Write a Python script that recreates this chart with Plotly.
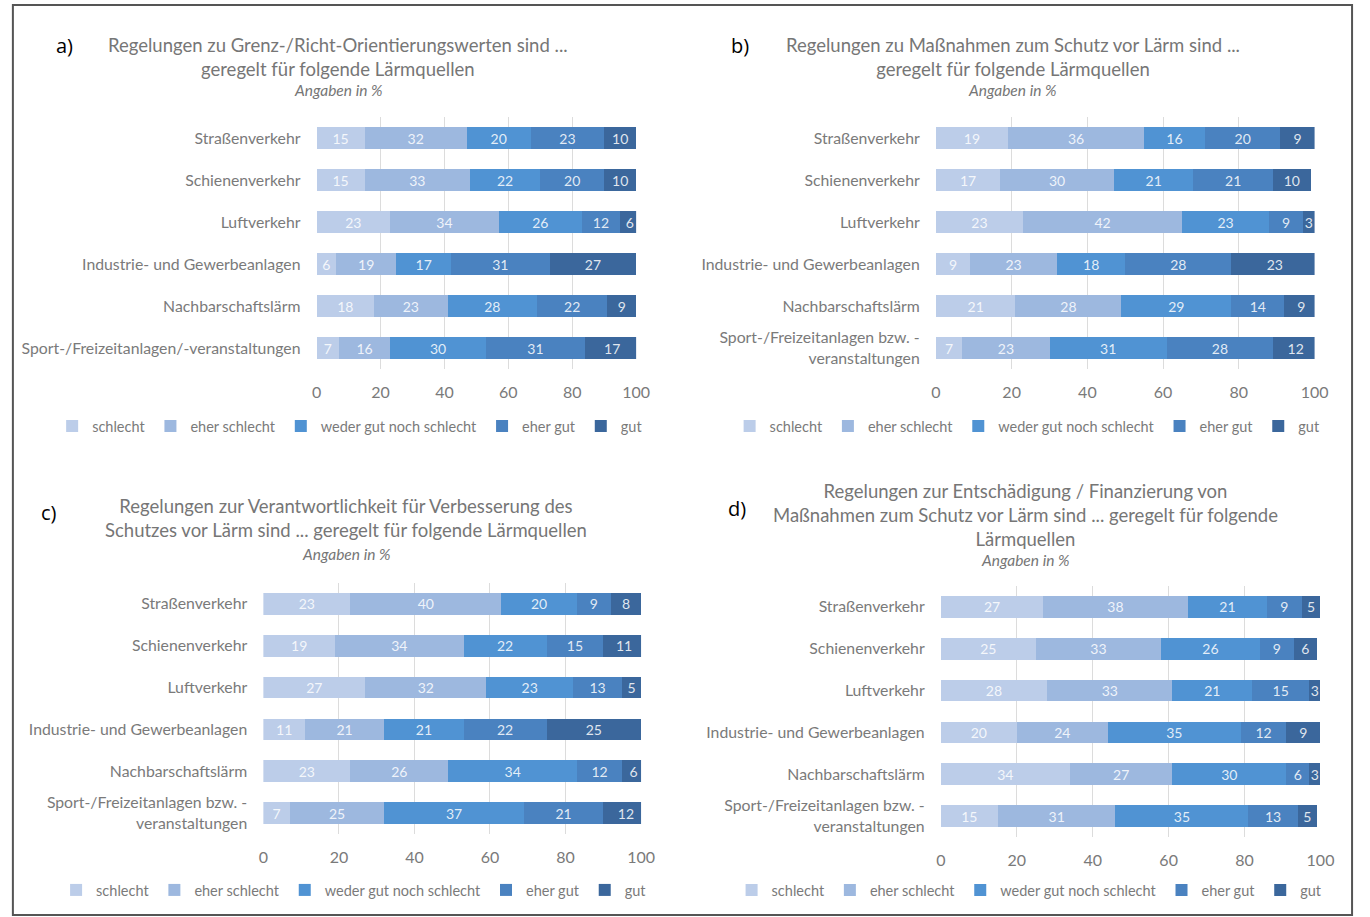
import plotly.graph_objects as go

W, H = 1370, 917

series_names = ["schlecht", "eher schlecht", "weder gut noch schlecht", "eher gut", "gut"]
colors = ["#bccde9", "#9db8df", "#5093d3", "#4a82c0", "#3b679c"]

cats_a = ["Straßenverkehr", "Schienenverkehr", "Luftverkehr", "Industrie- und Gewerbeanlagen",
          "Nachbarschaftslärm", "Sport-/Freizeitanlagen/-veranstaltungen"]
cats_bcd = ["Straßenverkehr", "Schienenverkehr", "Luftverkehr", "Industrie- und Gewerbeanlagen",
            "Nachbarschaftslärm", "Sport-/Freizeitanlagen bzw. -<br>veranstaltungen"]

a_schlecht = [15, 15, 23, 6, 18, 7]
a_eher_schlecht = [32, 33, 34, 19, 23, 16]
a_weder = [20, 22, 26, 17, 28, 30]
a_eher_gut = [23, 20, 12, 31, 22, 31]
a_gut = [10, 10, 6, 27, 9, 17]

b_schlecht = [19, 17, 23, 9, 21, 7]
b_eher_schlecht = [36, 30, 42, 23, 28, 23]
b_weder = [16, 21, 23, 18, 29, 31]
b_eher_gut = [20, 21, 9, 28, 14, 28]
b_gut = [9, 10, 3, 23, 9, 12]

c_schlecht = [23, 19, 27, 11, 23, 7]
c_eher_schlecht = [40, 34, 32, 21, 26, 25]
c_weder = [20, 22, 23, 21, 34, 37]
c_eher_gut = [9, 15, 13, 22, 12, 21]
c_gut = [8, 11, 5, 25, 6, 12]

d_schlecht = [27, 25, 28, 20, 34, 15]
d_eher_schlecht = [38, 33, 33, 24, 27, 31]
d_weder = [21, 26, 21, 35, 30, 35]
d_eher_gut = [9, 9, 15, 12, 6, 13]
d_gut = [5, 6, 3, 9, 3, 5]

x_ticks = [0, 20, 40, 60, 80, 100]

titles = [
    "Regelungen zu Grenz-/Richt-Orientierungswerten sind ...<br>geregelt für folgende Lärmquellen",
    "Regelungen zu Maßnahmen zum Schutz vor Lärm sind ...<br>geregelt für folgende Lärmquellen",
    "Regelungen zur Verantwortlichkeit für Verbesserung des<br>Schutzes vor Lärm sind ... geregelt für folgende Lärmquellen",
    "Regelungen zur Entschädigung / Finanzierung von<br>Maßnahmen zum Schutz vor Lärm sind ... geregelt für folgende<br>Lärmquellen",
]
subtitle = "Angaben in %"
panel_labels = ["a)", "b)", "c)", "d)"]

panels = [
    dict(cats=cats_a, data=[a_schlecht, a_eher_schlecht, a_weder, a_eher_gut, a_gut],
         x=(316, 640), y=(117, 369), title_xy=(338, 57), sub_y=90, label_xy=(60, 45), legend_xy=(350, 426)),
    dict(cats=cats_bcd, data=[b_schlecht, b_eher_schlecht, b_weder, b_eher_gut, b_gut],
         x=(944, 1328), y=(117, 369), title_xy=(1022, 57), sub_y=90, label_xy=(745, 45), legend_xy=(1037, 426)),
    dict(cats=cats_bcd, data=[c_schlecht, c_eher_schlecht, c_weder, c_eher_gut, c_gut],
         x=(262, 645), y=(583, 834), title_xy=(346, 518), sub_y=554, label_xy=(45, 512), legend_xy=(354, 890)),
    dict(cats=cats_bcd, data=[d_schlecht, d_eher_schlecht, d_weder, d_eher_gut, d_gut],
         x=(949, 1334), y=(586, 837), title_xy=(1035, 515), sub_y=560, label_xy=(742, 508), legend_xy=(1039, 890)),
]

FONT = "Lato"
GRAY = "#7a7a7a"

fig = go.Figure()
layout = dict(width=W, height=H, autosize=False, margin=dict(l=0, r=0, t=0, b=0),
              paper_bgcolor="white", plot_bgcolor="white", barmode="stack",
              bargap=0.48, showlegend=True, font=dict(family=FONT, color=GRAY))
annotations = []

for i, p in enumerate(panels):
    k = "" if i == 0 else str(i + 1)
    xa, ya = "x" + k, "y" + k
    leg = "legend" + k
    for s, (name, vals) in enumerate(zip(series_names, p["data"])):
        fig.add_trace(go.Bar(
            x=vals, y=p["cats"], orientation="h", name=name,
            marker=dict(color=colors[s], line=dict(width=0)),
            text=[str(v) for v in vals], textposition="inside", insidetextanchor="middle",
            textangle=0, constraintext="none",
            textfont=dict(family=FONT, size=14, color="rgba(255,255,255,0.85)"),
            xaxis=xa, yaxis=ya, legend=leg, hoverinfo="x+y+name"))
    layout["xaxis" + k] = dict(
        domain=[p["x"][0] / W, p["x"][1] / W], range=[0, 100], anchor=ya,
        tickvals=x_ticks, showgrid=True, gridcolor="#dcdcdc", gridwidth=1,
        zeroline=False, showline=False, ticks="outside", ticklen=9, tickcolor="rgba(0,0,0,0)",
        tickfont=dict(family=FONT, size=16, color=GRAY), fixedrange=True)
    layout["yaxis" + k] = dict(
        domain=[1 - p["y"][1] / H, 1 - p["y"][0] / H], anchor=xa, autorange="reversed",
        type="category", showgrid=False, zeroline=False, showline=False,
        ticks="outside", ticklen=12, tickcolor="rgba(0,0,0,0)",
        tickfont=dict(family=FONT, size=15.8, color=GRAY), fixedrange=True)
    lx, ly = p["legend_xy"]
    layout[leg] = dict(orientation="h", x=lx / W, y=1 - ly / H, xanchor="center", yanchor="middle",
                       xref="paper", yref="paper", bgcolor="rgba(0,0,0,0)",
                       font=dict(family=FONT, size=14.5, color=GRAY), itemwidth=30,
                       traceorder="normal", tracegroupgap=0)
    tx, ty = p["title_xy"]
    annotations.append(dict(text=titles[i], x=tx / W, y=1 - ty / H, xref="paper", yref="paper",
                            xanchor="center", yanchor="middle", showarrow=False, align="center",
                            font=dict(family=FONT, size=18.5, color="#767676")))
    annotations.append(dict(text="<i>" + subtitle + "</i>", x=tx / W, y=1 - p["sub_y"] / H,
                            xref="paper", yref="paper",
                            xanchor="center", yanchor="middle", showarrow=False,
                            font=dict(family=FONT, size=15.5, color="#767676")))
    px, py = p["label_xy"]
    annotations.append(dict(text=panel_labels[i], x=px / W, y=1 - py / H, xref="paper", yref="paper",
                            xanchor="center", yanchor="middle", showarrow=False,
                            font=dict(family="Open Sans", size=20, color="black")))

layout["annotations"] = annotations
layout["shapes"] = [dict(type="rect", xref="paper", yref="paper", x0=8 / W, x1=1366 / W,
                         y0=1 - 915 / H, y1=1 - 5 / H, line=dict(color="#555555", width=2),
                         fillcolor="rgba(0,0,0,0)")]
fig.update_layout(**layout)
fig.write_html("out.html", config={"responsive": False})
